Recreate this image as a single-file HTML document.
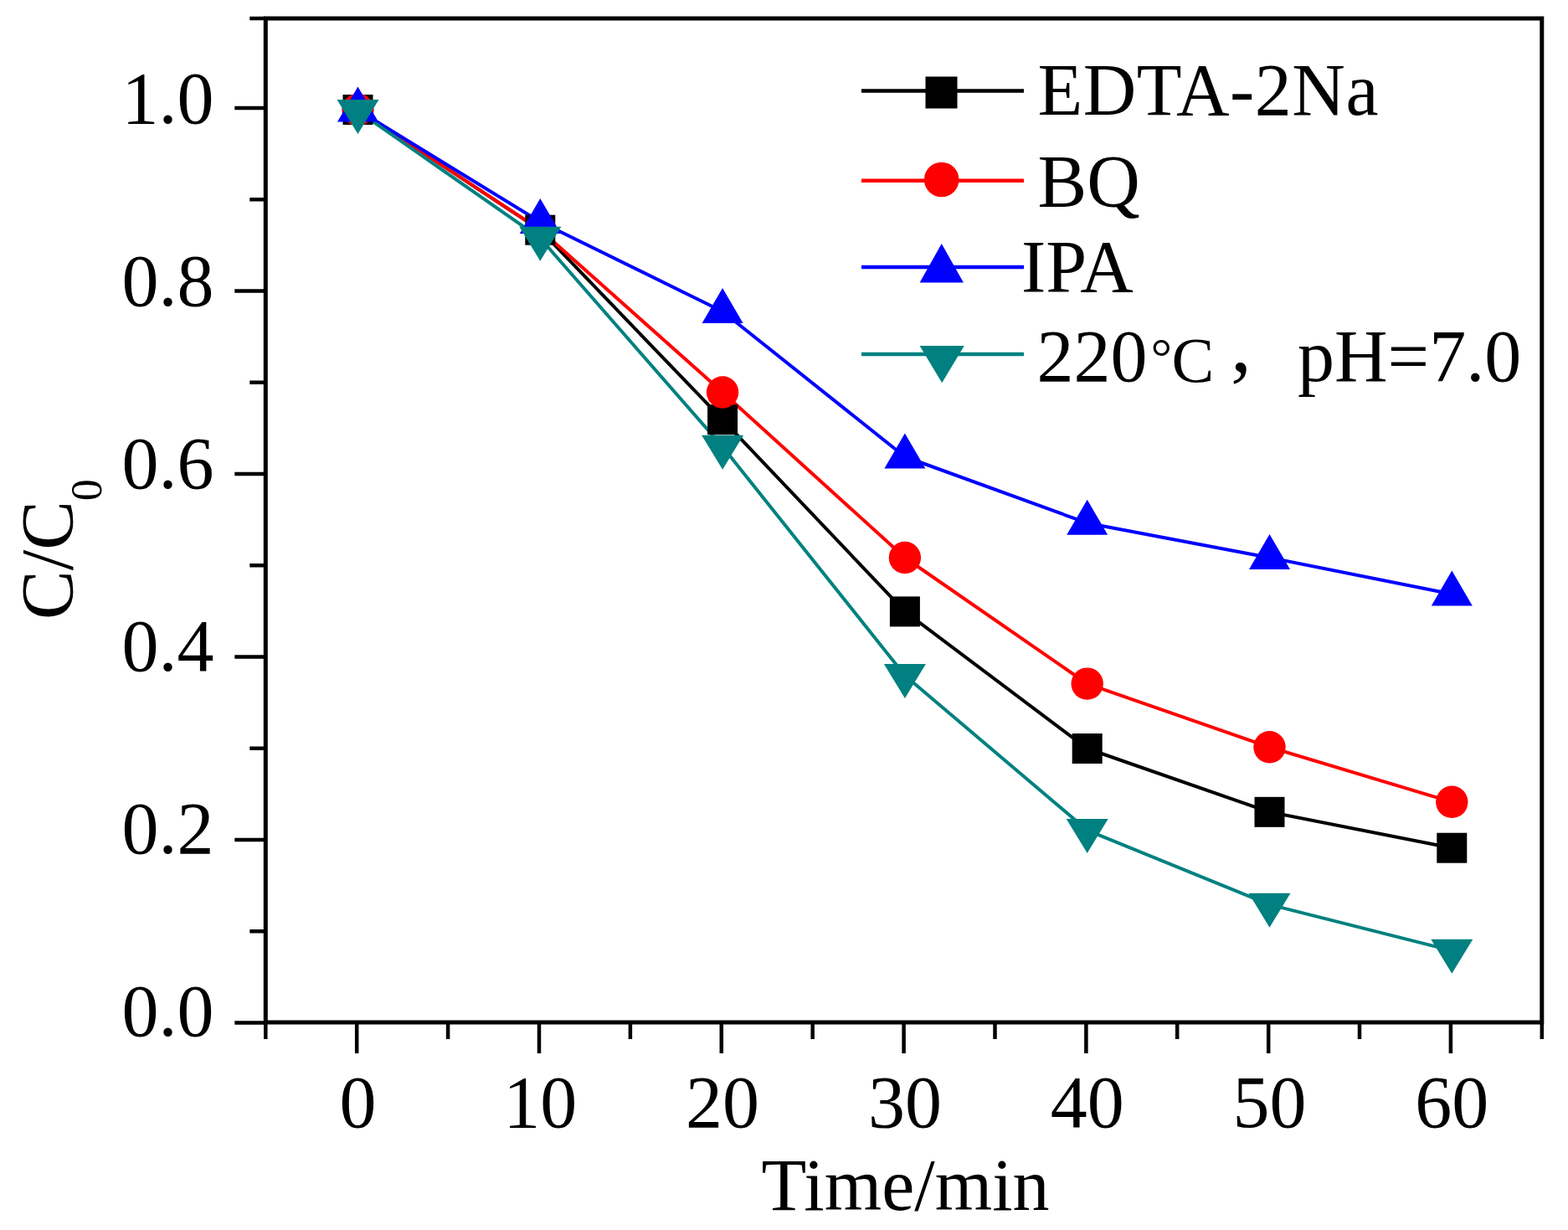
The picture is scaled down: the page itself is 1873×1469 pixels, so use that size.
<!DOCTYPE html>
<html><head><meta charset="utf-8"><title>C/C0 vs Time</title>
<style>
html,body{margin:0;padding:0;background:#fff;}
body{width:1873px;height:1469px;overflow:hidden;}
svg{display:block;}
text{font-family:"Liberation Serif","Noto Serif CJK SC",serif;font-size:88px;fill:#000;}
</style></head><body>
<svg width="1873" height="1469" viewBox="0 0 1873 1469">
<rect width="1873" height="1469" fill="#fff"/>
<rect x="317.3" y="22" width="1524.5" height="1199" fill="none" stroke="#000" stroke-width="5"/>
<path d="M317.3 1221.5H280.3 M317.3 1112.2H298.3 M317.3 1003H280.3 M317.3 893.8H298.3 M317.3 784.5H280.3 M317.3 675.2H298.3 M317.3 566H280.3 M317.3 456.8H298.3 M317.3 347.5H280.3 M317.3 238.2H298.3 M317.3 129H280.3 M317.3 22H298.3 M426.2 1221V1258 M644 1221V1258 M861.8 1221V1258 M1079.6 1221V1258 M1297.4 1221V1258 M1515.2 1221V1258 M1732.9 1221V1258 M317.3 1221V1241 M535.1 1221V1241 M752.9 1221V1241 M970.7 1221V1241 M1188.5 1221V1241 M1406.2 1221V1241 M1624 1221V1241 M1841.8 1221V1241" stroke="#000" stroke-width="4.5" fill="none"/>
<polyline points="427.5,131 645.3,274.7 863.1,501.2 1080.9,730.4 1298.7,894 1516.5,969.8 1734.3,1012.7" fill="none" stroke="#000" stroke-width="4.0" stroke-linejoin="round"/>
<polyline points="427.5,131 645.3,274.5 863.1,468.5 1080.9,666 1298.7,816.6 1516.5,892.3 1734.3,957.8" fill="none" stroke="#f00" stroke-width="4.0" stroke-linejoin="round"/>
<polyline points="427.5,131.5 645.3,265 863.1,372 1080.9,545.5 1298.7,624.7 1516.5,666 1734.3,709.5" fill="none" stroke="#00f" stroke-width="4.0" stroke-linejoin="round"/>
<polyline points="427.5,132.6 645.3,284.5 863.1,533.5 1080.9,806.7 1298.7,991.6 1516.5,1080.4 1734.3,1135.4" fill="none" stroke="#008080" stroke-width="4.0" stroke-linejoin="round"/>
<rect x="409.5" y="113" width="36" height="36" fill="#000"/>
<rect x="627.3" y="256.7" width="36" height="36" fill="#000"/>
<rect x="845.1" y="483.2" width="36" height="36" fill="#000"/>
<rect x="1062.9" y="712.4" width="36" height="36" fill="#000"/>
<rect x="1280.7" y="876" width="36" height="36" fill="#000"/>
<rect x="1498.5" y="951.8" width="36" height="36" fill="#000"/>
<rect x="1716.3" y="994.7" width="36" height="36" fill="#000"/>
<circle cx="427.5" cy="131" r="19.2" fill="#f00"/>
<circle cx="645.3" cy="274.5" r="19.2" fill="#f00"/>
<circle cx="863.1" cy="468.5" r="19.2" fill="#f00"/>
<circle cx="1080.9" cy="666" r="19.2" fill="#f00"/>
<circle cx="1298.7" cy="816.6" r="19.2" fill="#f00"/>
<circle cx="1516.5" cy="892.3" r="19.2" fill="#f00"/>
<circle cx="1734.3" cy="957.8" r="19.2" fill="#f00"/>
<polygon points="427.5,103.5 403,145.5 452,145.5" fill="#00f"/>
<polygon points="645.3,237 620.8,279 669.8,279" fill="#00f"/>
<polygon points="863.1,344 838.6,386 887.6,386" fill="#00f"/>
<polygon points="1080.9,517.5 1056.4,559.5 1105.4,559.5" fill="#00f"/>
<polygon points="1298.7,596.7 1274.2,638.7 1323.2,638.7" fill="#00f"/>
<polygon points="1516.5,638 1492,680 1541,680" fill="#00f"/>
<polygon points="1734.3,681.5 1709.8,723.5 1758.8,723.5" fill="#00f"/>
<polygon points="402.5,118.9 452.5,118.9 427.5,159.9" fill="#008080"/>
<polygon points="620.3,270.8 670.3,270.8 645.3,311.8" fill="#008080"/>
<polygon points="838.1,519.8 888.1,519.8 863.1,560.8" fill="#008080"/>
<polygon points="1055.9,793 1105.9,793 1080.9,834" fill="#008080"/>
<polygon points="1273.7,977.9 1323.7,977.9 1298.7,1018.9" fill="#008080"/>
<polygon points="1491.5,1066.7 1541.5,1066.7 1516.5,1107.7" fill="#008080"/>
<polygon points="1709.3,1121.7 1759.3,1121.7 1734.3,1162.7" fill="#008080"/>
<path d="M1029 108.5H1223" stroke="#000" stroke-width="4.5"/>
<path d="M1029 215.7H1223" stroke="#f00" stroke-width="4.5"/>
<path d="M1029 319H1223" stroke="#00f" stroke-width="4.5"/>
<path d="M1029 423.1H1223" stroke="#008080" stroke-width="4.5"/>
<rect x="1105.5" y="91.5" width="38" height="38" fill="#000"/>
<circle cx="1124.7" cy="214.5" r="20.8" fill="#f00"/>
<polygon points="1124.75,291.1 1098.6,337.6 1150.9,337.6" fill="#00f"/>
<polygon points="1098.6,412.9 1151.8,412.9 1125.2,457.3" fill="#008080"/>
<text x="255.5" y="1237" text-anchor="end">0.0</text>
<text x="255.5" y="1019" text-anchor="end">0.2</text>
<text x="255.5" y="801" text-anchor="end">0.4</text>
<text x="255.5" y="583.1" text-anchor="end">0.6</text>
<text x="255.5" y="365.1" text-anchor="end">0.8</text>
<text x="255.5" y="147.1" text-anchor="end">1.0</text>
<text x="427.5" y="1346" text-anchor="middle">0</text>
<text x="645.3" y="1346" text-anchor="middle">10</text>
<text x="863.1" y="1346" text-anchor="middle">20</text>
<text x="1080.9" y="1346" text-anchor="middle">30</text>
<text x="1298.7" y="1346" text-anchor="middle">40</text>
<text x="1516.5" y="1346" text-anchor="middle">50</text>
<text x="1734.3" y="1346" text-anchor="middle">60</text>
<text x="1081.6" y="1445" text-anchor="middle">Time/min</text>
<text transform="translate(86,740) rotate(-90)">C/C<tspan font-size="52" dy="35">0</tspan></text>
<text x="1239.5" y="137" letter-spacing="0.5">EDTA-2Na</text>
<text x="1239.5" y="245.5">BQ</text>
<text x="1220" y="347.5">IPA</text>
<text x="1238.6" y="455">220<tspan x="1374.6" y="447.5" font-size="64">°</tspan><tspan x="1399.6" y="455.5" font-size="76">C</tspan><tspan x="1470" y="443.2" font-size="100">,</tspan><tspan x="1550" y="455">pH=7.0</tspan></text>
</svg>
</body></html>
